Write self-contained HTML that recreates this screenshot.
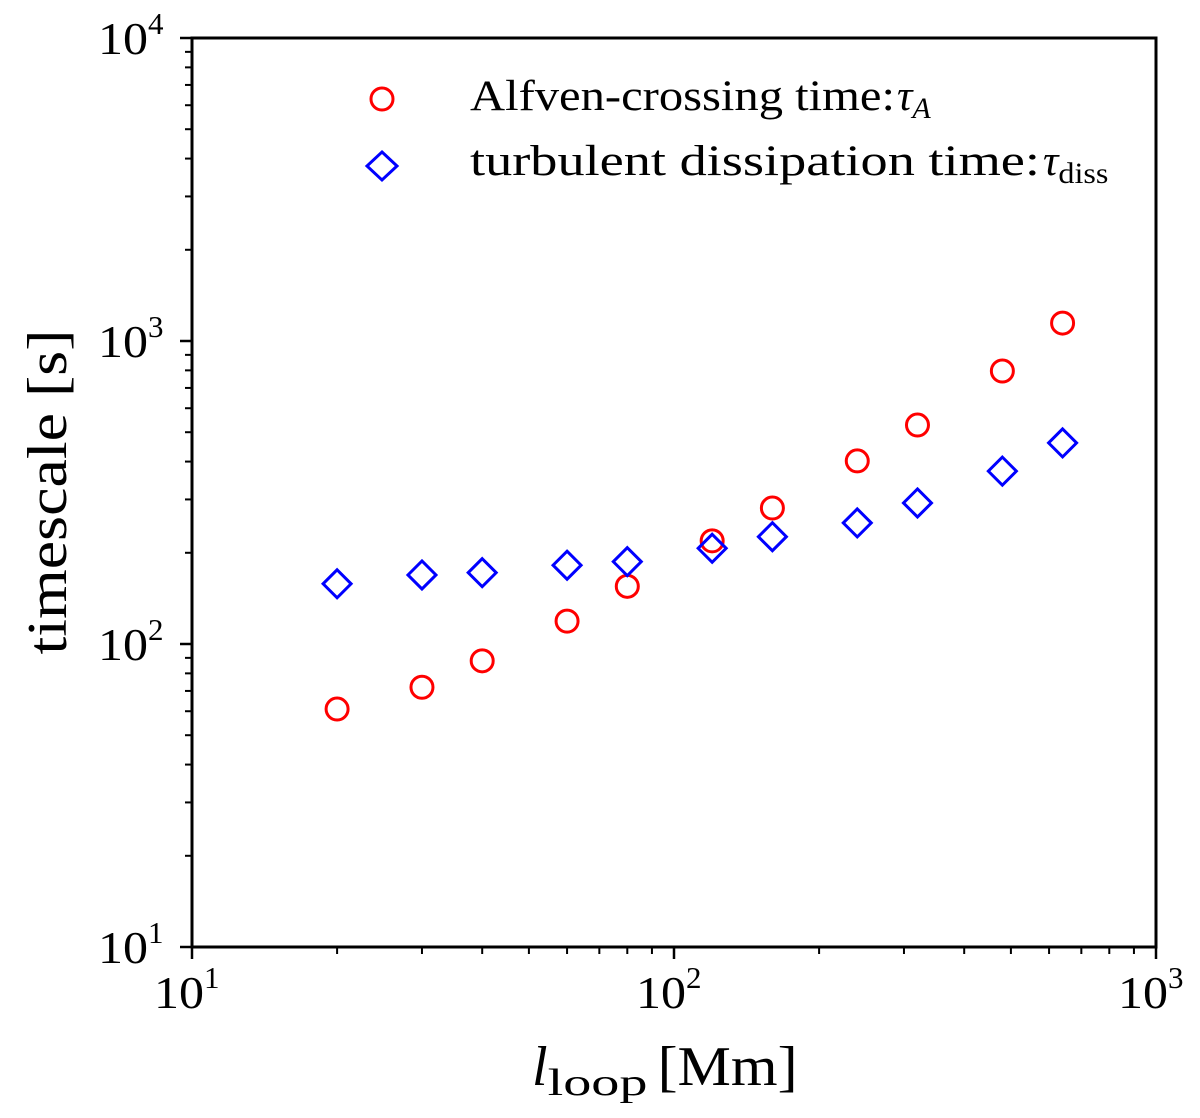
<!DOCTYPE html>
<html><head><meta charset="utf-8"><style>
html,body{margin:0;padding:0;background:#fff;}
svg text{font-family:"Liberation Serif",serif;fill:#000;}
</style></head><body>
<svg id="chart" width="1200" height="1113" viewBox="0 0 1200 1113" xmlns="http://www.w3.org/2000/svg">
<g id="axes"></g>
<g id="marks"></g>
<g id="legend">
  <circle cx="382" cy="99" r="11" fill="none" stroke="#ff0000" stroke-width="3"/>
  <text x="470" y="110" font-size="43"><tspan textLength="425" lengthAdjust="spacingAndGlyphs">Alfven-crossing time:</tspan><tspan x="897" font-style="italic">τ</tspan><tspan font-style="italic" font-size="30" dy="8">A</tspan></text>
  <path d="M382,152 L397,166 L382,180 L367,166 Z" fill="none" stroke="#0000ff" stroke-width="3"/>
  <text x="470" y="175" font-size="43"><tspan textLength="570" lengthAdjust="spacingAndGlyphs">turbulent dissipation time:</tspan><tspan x="1043" font-style="italic">τ</tspan><tspan font-size="30" dy="8" textLength="50" lengthAdjust="spacingAndGlyphs">diss</tspan></text>
</g>
<text transform="translate(66,492) rotate(-90)" text-anchor="middle" font-size="56" textLength="325" lengthAdjust="spacingAndGlyphs">timescale [s]</text>
<text x="532" y="1085" font-size="56"><tspan font-style="italic">l</tspan><tspan font-size="38" dy="10" textLength="100" lengthAdjust="spacingAndGlyphs">loop</tspan><tspan dy="-10" dx="10" textLength="140" lengthAdjust="spacingAndGlyphs">[Mm]</tspan></text>
</svg>
<script>
const xValues=[20,30,40,60,80,120,160,240,320,480,640];
const alfvenTimes=[61,72,88,119,155,219,281,402,528,796,1146];
const dissTimes=[158,169,172,182,187,207,226,251,292,372,461];
const xTickLabels=["1","2","3"];
const yTickLabels=["1","2","3","4"];
const L=192,R=1156,T=38,B=947;
const xMin=1,xMax=3,yMin=1,yMax=4;
function xs(v){return L+(Math.log10(v)-xMin)/(xMax-xMin)*(R-L);}
function ys(v){return B-(Math.log10(v)-yMin)/(yMax-yMin)*(B-T);}
const NS="http://www.w3.org/2000/svg";
const axes=document.getElementById('axes'),marks=document.getElementById('marks');
function mk(tag,attrs,parent){const e=document.createElementNS(NS,tag);for(const k in attrs)e.setAttribute(k,attrs[k]);parent.appendChild(e);return e;}
const frame=mk('rect',{x:L,y:T,width:R-L,height:B-T,fill:'none',stroke:'#000','stroke-width':3},axes);


for(let d=xMin;d<=xMax;d++){
  for(let m=1;m<=9;m++){
    const v=m*Math.pow(10,d);if(d===xMax&&m>1)break;
    const x=xs(v),len=m===1?12:7;
    const t=mk('line',{x1:x,y1:B,x2:x,y2:B+len,stroke:'#000','stroke-width':m===1?2.5:2},axes);
    
    
  }
}
xTickLabels.forEach(p=>{
  const x=xs(Math.pow(10,+p));
  const t=mk('text',{x:x-38,y:1008,'font-size':46},axes);
  
  
  t.innerHTML='<tspan textLength="50" lengthAdjust="spacingAndGlyphs">10</tspan><tspan font-size="31" dy="-20">'+p+'</tspan>';
});
for(let d=yMin;d<=yMax;d++){
  for(let m=1;m<=9;m++){
    const v=m*Math.pow(10,d);if(d===yMax&&m>1)break;
    const y=ys(v),len=m===1?12:7;
    const t=mk('line',{x1:L-len,y1:y,x2:L,y2:y,stroke:'#000','stroke-width':m===1?2.5:2},axes);
    
    
  }
}
yTickLabels.forEach(p=>{
  const y=ys(Math.pow(10,+p));
  const t=mk('text',{x:98,y:y+16,'font-size':46},axes);
  
  
  t.innerHTML='<tspan textLength="50" lengthAdjust="spacingAndGlyphs">10</tspan><tspan font-size="31" dy="-20">'+p+'</tspan>';
});
xValues.forEach((xv,i)=>{
  const c=mk('circle',{cx:xs(xv),cy:ys(alfvenTimes[i]),r:11,fill:'none',stroke:'#ff0000','stroke-width':3},marks);
  
  
  const x=xs(xv),y=ys(dissTimes[i]);
  const p=mk('path',{d:`M${x},${y-14} L${x+14},${y} L${x},${y+14} L${x-14},${y} Z`,fill:'none',stroke:'#0000ff','stroke-width':3},marks);
  
  
});
</script>
</body></html>
